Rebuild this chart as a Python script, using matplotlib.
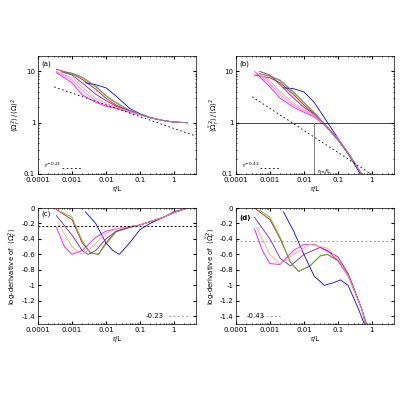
import numpy as np
import matplotlib.pyplot as plt

# values: (r/L, value) per curve
colors = ["red", "limegreen", "blue", "magenta", "#7a1fa2", "#ffa07a", "#ff77ff", "gray"]

a_x = [[3.5e-4, 1e-3, 2e-3, 5e-3, 1e-2, 2e-2, 5e-2, 0.1, 0.2, 0.5, 1, 2.5],
       [5e-4, 1e-3, 2e-3, 5e-3, 1e-2, 2e-2, 5e-2, 0.1, 0.2, 0.5, 1, 2.5],
       [2.5e-3, 5e-3, 1e-2, 2e-2, 5e-2, 0.1, 0.2, 0.5, 1, 2.5],
       [3.5e-4, 1e-3, 2e-3, 5e-3, 1e-2, 2e-2, 5e-2, 0.1, 0.2, 0.5, 1, 2.5],
       [5e-4, 1e-3, 2e-3, 5e-3, 1e-2, 2e-2, 5e-2, 0.1, 0.2, 0.5, 1, 2.5],
       [4e-4, 1e-3, 2e-3, 5e-3, 1e-2, 2e-2, 5e-2, 0.1, 0.2, 0.5, 1, 2.5],
       [3.5e-4, 1e-3, 2e-3, 5e-3, 1e-2, 2e-2, 5e-2, 0.1, 0.2, 0.5, 1, 2.5],
       [5e-4, 1e-3, 2e-3, 5e-3, 1e-2, 2e-2, 5e-2, 0.1, 0.2, 0.5, 1, 2.5]]
a_y = [[11, 9, 7, 4.5, 3.0, 2.2, 1.7, 1.45, 1.25, 1.1, 1.03, 1.0],
       [9.5, 9, 7.5, 5.0, 3.3, 2.4, 1.7, 1.45, 1.25, 1.1, 1.03, 1.0],
       [6, 5.5, 4.8, 3.3, 1.9, 1.5, 1.27, 1.1, 1.03, 1.0],
       [9.5, 6, 3.5, 2.5, 2.1, 1.9, 1.6, 1.45, 1.25, 1.1, 1.03, 1.0],
       [10, 8.5, 6, 3.6, 2.7, 2.1, 1.7, 1.45, 1.25, 1.1, 1.03, 1.0],
       [9.5, 7.5, 5, 3.0, 2.4, 2.0, 1.65, 1.45, 1.25, 1.1, 1.03, 1.0],
       [10, 6.8, 4.2, 2.7, 2.2, 1.95, 1.62, 1.45, 1.25, 1.1, 1.03, 1.0],
       [10, 9.3, 7.8, 5.2, 3.4, 2.5, 1.75, 1.47, 1.25, 1.1, 1.03, 1.0]]

b_x = [[3.5e-4, 1e-3, 2e-3, 5e-3, 1e-2, 2e-2, 5e-2, 0.1, 0.2, 0.5],
       [5e-4, 1e-3, 2e-3, 5e-3, 1e-2, 2e-2, 5e-2, 0.1, 0.2, 0.5],
       [2.5e-3, 5e-3, 1e-2, 2e-2, 5e-2, 0.1, 0.2, 0.5],
       [3.5e-4, 1e-3, 2e-3, 5e-3, 1e-2, 2e-2, 5e-2, 0.1, 0.2, 0.5],
       [5e-4, 1e-3, 2e-3, 5e-3, 1e-2, 2e-2, 5e-2, 0.1, 0.2, 0.5],
       [4e-4, 1e-3, 2e-3, 5e-3, 1e-2, 2e-2, 5e-2, 0.1, 0.2, 0.5],
       [3.5e-4, 1e-3, 2e-3, 5e-3, 1e-2, 2e-2, 5e-2, 0.1, 0.2, 0.5],
       [5e-4, 1e-3, 2e-3, 5e-3, 1e-2, 2e-2, 5e-2, 0.1, 0.2, 0.5]]
b_y = [[8.5, 7.5, 6, 3.5, 2.2, 1.5, 0.78, 0.46, 0.25, 0.1],
       [9, 8, 6.5, 3.8, 2.4, 1.55, 0.8, 0.47, 0.26, 0.1],
       [4.8, 4.6, 4.0, 2.5, 1.0, 0.5, 0.25, 0.09],
       [10, 5, 3, 2.0, 1.6, 1.3, 0.8, 0.5, 0.26, 0.1],
       [10, 8.5, 5.5, 3.0, 2.0, 1.45, 0.78, 0.47, 0.25, 0.1],
       [9.5, 6.5, 4, 2.4, 1.8, 1.4, 0.8, 0.48, 0.26, 0.1],
       [10, 5.8, 3.5, 2.2, 1.7, 1.35, 0.8, 0.49, 0.26, 0.1],
       [9, 8.2, 6.8, 4.0, 2.5, 1.6, 0.82, 0.48, 0.26, 0.1]]

c_x = [[3.5e-4, 1e-3, 2e-3, 3.5e-3, 6e-3, 1e-2, 2e-2, 5e-2, 0.1, 0.5, 1, 2.5],
       [5e-4, 1e-3, 2e-3, 3.5e-3, 6e-3, 1e-2, 2e-2, 5e-2, 0.1, 0.5, 1, 2.5],
       [2.5e-3, 5e-3, 1e-2, 1.6e-2, 2.5e-2, 5e-2, 0.1, 0.2, 0.5, 1, 2.5],
       [3.5e-4, 6e-4, 1e-3, 2e-3, 5e-3, 1e-2, 2e-2, 5e-2, 0.1, 0.5, 1, 2.5],
       [3.5e-4, 1e-3, 2e-3, 3e-3, 5e-3, 1e-2, 2e-2, 5e-2, 0.1, 0.5, 1, 2.5],
       [4e-4, 1e-3, 2e-3, 4e-3, 1e-2, 2e-2, 5e-2, 0.1, 0.5, 1, 2.5]]
c_y = [[-0.02, -0.15, -0.45, -0.58, -0.6, -0.45, -0.3, -0.25, -0.22, -0.12, -0.06, 0.0],
       [-0.05, -0.12, -0.42, -0.58, -0.6, -0.47, -0.31, -0.25, -0.22, -0.12, -0.06, 0.0],
       [-0.05, -0.2, -0.45, -0.55, -0.6, -0.45, -0.28, -0.2, -0.12, -0.05, 0.0],
       [-0.25, -0.5, -0.6, -0.55, -0.38, -0.3, -0.27, -0.24, -0.22, -0.12, -0.06, 0.0],
       [-0.1, -0.35, -0.55, -0.6, -0.55, -0.4, -0.3, -0.25, -0.22, -0.12, -0.06, 0.0],
       [-0.2, -0.5, -0.6, -0.5, -0.33, -0.27, -0.24, -0.22, -0.12, -0.06, 0.0]]

d_x = [[3.5e-4, 1e-3, 2e-3, 4e-3, 7e-3, 1.5e-2, 3e-2, 5e-2, 0.1, 0.2, 0.5, 0.7],
       [5e-4, 1e-3, 2e-3, 4e-3, 7e-3, 1.5e-2, 3e-2, 5e-2, 0.1, 0.2, 0.5, 0.7],
       [2.5e-3, 5e-3, 1e-2, 2e-2, 4e-2, 7e-2, 0.12, 0.2, 0.4, 0.6],
       [3.5e-4, 6e-4, 1e-3, 2e-3, 5e-3, 1e-2, 2e-2, 5e-2, 0.1, 0.2, 0.5, 0.65],
       [3.5e-4, 1e-3, 2e-3, 4e-3, 1e-2, 3e-2, 0.1, 0.2, 0.5, 0.65],
       [4e-4, 1e-3, 2e-3, 5e-3, 1.5e-2, 5e-2, 0.1, 0.2, 0.5, 0.65]]
d_y = [[0.0, -0.15, -0.4, -0.7, -0.82, -0.75, -0.62, -0.6, -0.68, -0.85, -1.3, -1.5],
       [-0.03, -0.12, -0.38, -0.7, -0.82, -0.75, -0.62, -0.6, -0.68, -0.85, -1.3, -1.5],
       [-0.05, -0.3, -0.6, -0.88, -1.0, -0.97, -0.93, -1.0, -1.3, -1.5],
       [-0.27, -0.55, -0.72, -0.73, -0.55, -0.47, -0.47, -0.55, -0.68, -0.88, -1.3, -1.5],
       [-0.12, -0.4, -0.65, -0.75, -0.6, -0.51, -0.63, -0.85, -1.3, -1.5],
       [-0.25, -0.6, -0.73, -0.6, -0.47, -0.52, -0.66, -0.87, -1.3, -1.5]]

fs = 5
plt.rcParams['font.size'] = fs
fig = plt.figure(figsize=(4, 4), dpi=100)
axa = fig.add_axes([0.095, 0.565, 0.395, 0.295])
axb = fig.add_axes([0.59, 0.565, 0.395, 0.295])
axc = fig.add_axes([0.095, 0.19, 0.395, 0.29])
axd = fig.add_axes([0.59, 0.19, 0.395, 0.29])

xt = [1e-4, 1e-3, 1e-2, 0.1, 1]
xtl = ["0.0001", "0.001", "0.01", "0.1", "1"]
for ax in (axa, axb, axc, axd):
    ax.set_xscale('log')
    ax.set_xlim(1e-4, 4.5)
    ax.set_xticks(xt)
    ax.set_xticklabels(xtl)
    ax.tick_params(which='both', direction='in', top=True, right=True, labelsize=fs, length=2, pad=2)
    ax.tick_params(which='minor', length=1)
    for s in ax.spines.values():
        s.set_linewidth(0.5)
    ax.set_xlabel("r/L", fontsize=fs, labelpad=2)

lw = 0.6
for i in range(len(a_x)):
    axa.plot(a_x[i], a_y[i], color=colors[i], lw=lw)
    axb.plot(b_x[i], b_y[i], color=colors[i], lw=lw)
for i in range(len(c_x)):
    axc.plot(c_x[i], c_y[i], color=colors[i], lw=lw)
    axd.plot(d_x[i], d_y[i], color=colors[i], lw=lw)

for ax in (axa, axb):
    ax.set_yscale('log')
    ax.set_ylim(0.1, 20)
    ax.set_yticks([0.1, 1, 10])
    ax.set_yticklabels(["0.1", "1", "10"])

xr = np.array([3e-4, 4.5])
axa.plot(xr, 5 * (xr / 3e-4) ** -0.23, color='k', ls=(0, (2, 3)), lw=0.6)
axa.plot([5e-4, 2e-3], [0.13, 0.13], color='k', ls=(0, (2, 3)), lw=0.6)
axa.text(1.5e-4, 0.135, "r$^{-0.23}$", fontsize=4.5)
axa.text(1.3e-4, 13, "(a)", fontsize=fs)
axa.set_ylabel(r"$\langle\Omega_r^2\rangle\,/\,\langle\Omega\rangle^2$", fontsize=fs, labelpad=1)

xr2 = np.array([3e-4, 1.0])
axb.plot(xr2, 3.2 * (xr2 / 3e-4) ** -0.43, color='k', ls=(0, (2, 3)), lw=0.6)
axb.plot([5e-4, 2e-3], [0.13, 0.13], color='k', ls=(0, (2, 3)), lw=0.6)
axb.text(1.5e-4, 0.135, "r$^{-0.43}$", fontsize=4.5)
axb.axhline(1, color='k', lw=0.5)
axb.plot([0.02, 0.02], [0.1, 1], color='gray', lw=0.7)
axb.text(0.024, 0.105, "r$_m$/L", fontsize=4.5)
axb.text(1.3e-4, 13, "(b)", fontsize=fs)
axb.set_ylabel(r"$\langle\tilde\Omega_r^2\rangle\,/\,\langle\Omega\rangle^2$", fontsize=fs, labelpad=1)

for ax in (axc, axd):
    ax.set_ylim(-1.5, 0)
    ax.set_yticks(np.arange(-1.4, 0.01, 0.2))
    ax.set_yticklabels(["-1.4", "-1.2", "-1", "-0.8", "-0.6", "-0.4", "-0.2", "0"])

axc.axhline(-0.23, color='k', ls=(0, (2, 2)), lw=0.7)
axc.plot([0.7, 3], [-1.4, -1.4], color='gray', ls=(0, (2, 3)), lw=0.6)
axc.text(0.15, -1.42, "-0.23", fontsize=fs)
axc.text(1.3e-4, -0.1, "(c)", fontsize=fs)
axc.set_ylabel(r"log-derivative of  $\langle\Omega_r^2\rangle$", fontsize=fs, labelpad=1)

axd.axhline(-0.43, color='gray', ls=(0, (2, 3)), lw=0.6)
axd.plot([6e-4, 2e-3], [-1.4, -1.4], color='gray', ls=(0, (2, 3)), lw=0.6)
axd.text(2e-4, -1.42, "-0.43", fontsize=fs)
axd.text(1.3e-4, -0.15, "(d)", fontsize=fs, fontweight='bold')
axd.set_ylabel(r"log-derivative of  $\langle\tilde\Omega_r^2\rangle$", fontsize=fs, labelpad=1)

fig.savefig("out.png", dpi=100)
